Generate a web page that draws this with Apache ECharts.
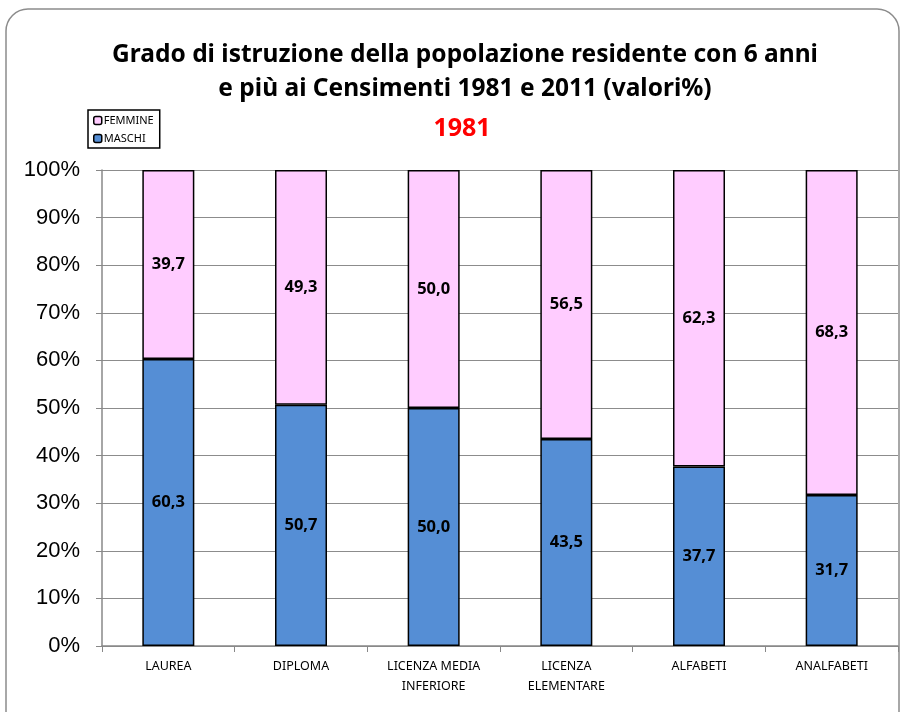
<!DOCTYPE html>
<html>
<head>
<meta charset="utf-8">
<script src="https://cdn.jsdelivr.net/npm/echarts@6/dist/echarts.min.js"></script>
<style>
  html, body { margin: 0; padding: 0; background: #fff; }
  #chart { width: 904px; height: 712px; }
</style>
</head>
<body>
<div id="chart"></div>
<script>
// categorie (titolo di studio)
var categorie = ['LAUREA', 'DIPLOMA', 'LICENZA MEDIA\nINFERIORE', 'LICENZA\nELEMENTARE', 'ALFABETI', 'ANALFABETI'];
// valori % 1981
var maschi = [60.3, 50.7, 50.0, 43.5, 37.7, 31.7];
var femmine = [39.7, 49.3, 50.0, 56.5, 62.3, 68.3];

var fontTesto = '"Noto Sans", sans-serif';

// etichetta con virgola decimale
function virgola(p) {
    return p.value.toFixed(1).replace('.', ',');
}

var chart = echarts.init(document.getElementById('chart'));
var option = {
    animation: false,
    backgroundColor: '#fff',
    graphic: [{
        type: 'rect',
        shape: { x: 6, y: 9, width: 893, height: 730, r: 22 },
        style: { fill: 'none', stroke: '#8c8c8c', lineWidth: 1.5 },
        z: -1
    }],
    title: [{
        text: 'Grado di istruzione della popolazione residente con 6 anni\ne più ai Censimenti 1981 e 2011 (valori%)',
        left: 460,
        top: 33,
        textAlign: 'center',
        textStyle: {
            fontFamily: fontTesto,
            fontSize: 24.5,
            fontWeight: 'bold',
            color: '#000',
            lineHeight: 34
        }
    }, {
        text: '1981',
        left: 457,
        top: 111,
        textAlign: 'center',
        textStyle: {
            fontFamily: fontTesto,
            fontSize: 25,
            fontWeight: 'bold',
            color: '#ff0000'
        }
    }],
    legend: {
        data: ['FEMMINE', 'MASCHI'],
        orient: 'vertical',
        left: 88,
        top: 110,
        borderColor: '#000',
        borderWidth: 1.5,
        padding: [5, 6, 4, 5],
        itemWidth: 8,
        itemHeight: 8,
        itemGap: 7,
        textStyle: { fontFamily: fontTesto, fontSize: 11, color: '#000', padding: [0, 0, 0, -3] },
        itemStyle: { borderColor: '#000', borderWidth: 1.5 }
    },
    grid: { left: 102, right: 6, top: 170, bottom: 66 },
    xAxis: {
        type: 'category',
        data: categorie,
        axisLine: { lineStyle: { color: '#888', width: 1.5 } },
        axisTick: { show: true, length: 6, lineStyle: { color: '#888' } },
        axisLabel: {
            fontFamily: fontTesto,
            fontSize: 12.5,
            color: '#000',
            margin: 10,
            lineHeight: 20
        }
    },
    yAxis: {
        type: 'value',
        min: 0,
        max: 100,
        interval: 10,
        axisLine: { show: true, lineStyle: { color: '#888', width: 1.5 } },
        axisTick: { show: true, length: 6, lineStyle: { color: '#888' } },
        axisLabel: {
            formatter: '{value}%',
            fontFamily: '"Liberation Sans", Arial, sans-serif',
            fontSize: 22,
            color: '#000',
            margin: 22
        },
        splitLine: { lineStyle: { color: '#8c8c8c', width: 1.2 } }
    },
    series: [{
        name: 'MASCHI',
        type: 'bar',
        stack: 'tot',
        barWidth: 52,
        data: maschi,
        itemStyle: { color: '#558ed5', borderColor: '#000', borderWidth: 1.5 },
        label: {
            show: true,
            position: 'inside',
            formatter: virgola,
            fontFamily: fontTesto,
            fontSize: 16.5,
            fontWeight: 'bold',
            color: '#000'
        }
    }, {
        name: 'FEMMINE',
        type: 'bar',
        stack: 'tot',
        barWidth: 52,
        data: femmine,
        itemStyle: { color: '#ffccff', borderColor: '#000', borderWidth: 1.5 },
        label: {
            show: true,
            position: 'inside',
            formatter: virgola,
            fontFamily: fontTesto,
            fontSize: 16.5,
            fontWeight: 'bold',
            color: '#000'
        }
    }]
};
chart.setOption(option);
</script>
</body>
</html>
